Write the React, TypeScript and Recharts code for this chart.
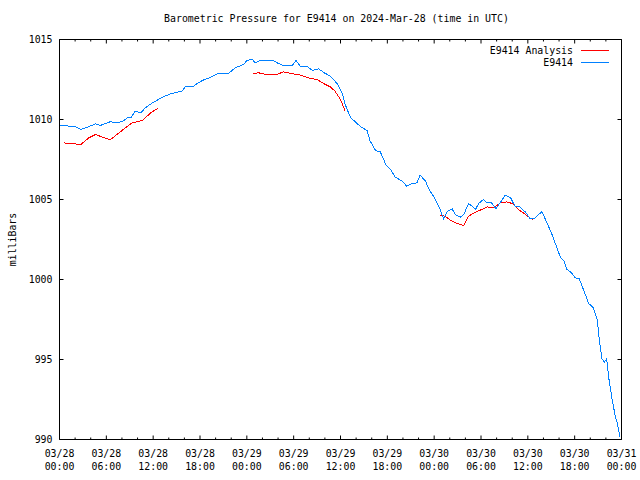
// Barometric pressure E9414 — gnuplot-style box chart in Recharts.

import { LineChart, Line, XAxis, YAxis, Legend, Label } from "recharts";

const FONT = "'DejaVu Sans Mono', 'Liberation Mono', monospace";
const FS = 9.9;

// hours since 03/28 00:00 UTC
const stationHours = [
  0, 1, 2, 2.7, 3.5, 4.6, 5.25, 6.5, 7.3, 8.0, 8.7, 9.2, 9.7, 10.4, 11, 11.9, 12.5, 13.2, 14.2, 15.0,
  15.7, 16.1, 17.2, 17.6, 18.3, 19.2, 20.2, 21.0, 21.7, 22.5, 23.6, 24.0, 24.7, 25.1, 25.7, 26.5, 27.4,
  27.9, 28.7, 29.8, 30.3, 30.9, 31.7, 32.4, 33.2, 33.9, 34.7, 35.6, 36.2, 36.6, 37.3, 37.9, 38.5, 39.4,
  39.8, 40.5, 41.1, 41.8, 42.4, 43.0, 43.9, 44.5, 45.2, 45.8, 46.2, 46.9, 47.3, 47.9, 48.6, 49.0, 49.2,
  49.7, 50.3, 50.7, 51.4, 51.8, 52.4, 52.9, 53.3, 53.7, 54.3, 54.8, 55.3, 55.9, 56.5, 57.1, 57.8, 58.4,
  59.0, 59.7, 60.3, 60.8, 61.2, 61.8, 62.5, 63.1, 63.8, 64.2, 64.6, 65.0, 65.5, 66.1, 66.6, 67.2, 67.8,
  68.4, 68.9, 69.2, 69.5, 69.8, 70.1, 70.4, 70.8, 71.2, 71.5, 71.8,
];
const stationPressure = [
  1009.63, 1009.6, 1009.55, 1009.38, 1009.5, 1009.73, 1009.63, 1009.86, 1009.8, 1009.86, 1010.1, 1010.15,
  1010.52, 1010.42, 1010.73, 1011.04, 1011.2, 1011.4, 1011.6, 1011.7, 1011.77, 1012.04, 1012.08, 1012.23,
  1012.44, 1012.6, 1012.85, 1012.85, 1012.9, 1013.23, 1013.44, 1013.69, 1013.75, 1013.54, 1013.69, 1013.69,
  1013.69, 1013.54, 1013.37, 1013.37, 1013.69, 1013.29, 1013.33, 1013.06, 1013.17, 1012.92, 1012.71, 1012.23,
  1011.67, 1010.94, 1010.1, 1009.86, 1009.58, 1009.31, 1008.65, 1008.06, 1007.98, 1007.19, 1006.88, 1006.4,
  1006.15, 1005.83, 1006.0, 1006.04, 1006.52, 1006.15, 1005.67, 1005.21, 1004.58, 1004.06, 1003.81, 1004.27,
  1004.42, 1004.06, 1003.9, 1004.06, 1004.75, 1004.58, 1004.38, 1004.75, 1005.0, 1004.79, 1004.83, 1004.42,
  1004.83, 1005.27, 1005.1, 1004.54, 1004.54, 1004.21, 1003.79, 1003.79, 1004.0, 1004.23, 1003.5, 1002.81,
  1001.88, 1001.35, 1001.19, 1000.63, 1000.46, 1000.1, 1000.04, 999.27, 998.5, 998.23, 997.5, 996.04,
  995.04, 994.83, 995.04, 993.75, 992.5, 991.46, 990.94, 990.17,
];

const analysisHours = [
  0.6, 1.3, 2.0, 2.7, 3.75, 4.6, 5.5, 6.5, 8.0, 9.3, 10.6, 11.7, 12.7, 18,
  24.8, 25.5, 26.6, 27.7, 28.7, 30.0, 30.9, 31.9, 33.0, 33.9, 34.7, 35.3, 36.0, 36.6, 42,
  48.7, 49.4, 50.1, 50.9, 51.8, 52.4, 53.3, 54.1, 54.8, 55.6, 56.5, 57.3, 58.0, 58.8, 59.7, 60.7,
];
const analysisPressure: (number | null)[] = [
  1008.54, 1008.48, 1008.48, 1008.42, 1008.85, 1009.06, 1008.9, 1008.73, 1009.31, 1009.79, 1009.94, 1010.42,
  1010.73, null,
  1012.85, 1012.92, 1012.79, 1012.79, 1012.98, 1012.85, 1012.77, 1012.6, 1012.5, 1012.23, 1012.04, 1011.77,
  1011.25, 1010.52, null,
  1004.02, 1003.96, 1003.69, 1003.5, 1003.38, 1003.96, 1004.21, 1004.38, 1004.54, 1004.48, 1004.79, 1004.85,
  1004.75, 1004.38, 1004.06, 1003.71,
];

const xTicks = [0, 2, 4, 6, 8, 10, 12, 14, 16, 18, 20, 22, 24, 26, 28, 30, 32, 34, 36, 38, 40, 42, 44, 46, 48, 50, 52, 54, 56, 58, 60, 62, 64, 66, 68, 70, 72];
const majorHours = [0, 6, 12, 18, 24, 30, 36, 42, 48, 54, 60, 66, 72];
const tickDates = ["03/28", "03/28", "03/28", "03/28", "03/29", "03/29", "03/29", "03/29", "03/30", "03/30", "03/30", "03/30", "03/31"];
const tickTimes = ["00:00", "06:00", "12:00", "18:00", "00:00", "06:00", "12:00", "18:00", "00:00", "06:00", "12:00", "18:00", "00:00"];
const yTicks = [990, 995, 1000, 1005, 1010, 1015];

const stationData = stationHours.map((h, i) => ({ h, v: stationPressure[i] }));
const analysisData = analysisHours.map((h, i) => ({ h, v: analysisPressure[i] }));

const RED = "#ff0000";
const BLUE = "#0080ff";

const txt = { fontFamily: FONT, fontSize: FS, fill: "#000" };

function BottomTick(props: any) {
  const { x, y, payload } = props;
  const idx = majorHours.indexOf(payload.value);
  const major = idx >= 0;
  return (
    <g>
      <line x1={x} y1={y} x2={x} y2={y - (major ? 4 : 2)} stroke="#000" />
      {major && (
        <text textAnchor="middle" {...txt}>
          <tspan x={x} y={y + 17}>{tickDates[idx]}</tspan>
          <tspan x={x} y={y + 30}>{tickTimes[idx]}</tspan>
        </text>
      )}
    </g>
  );
}

function TopTick(props: any) {
  const { x, y, payload } = props;
  const major = majorHours.indexOf(payload.value) >= 0;
  return <line x1={x} y1={y} x2={x} y2={y + (major ? 4 : 2)} stroke="#000" />;
}

function LeftTick(props: any) {
  const { x, y, payload } = props;
  return (
    <g>
      <line x1={x} y1={y} x2={x + 4} y2={y} stroke="#000" />
      <text x={x - 7} y={y} textAnchor="end" dominantBaseline="central" {...txt}>
        {payload.value}
      </text>
    </g>
  );
}

function RightTick(props: any) {
  const { x, y } = props;
  return <line x1={x} y1={y} x2={x - 4} y2={y} stroke="#000" />;
}

function LegendBox() {
  return (
    <svg width={150} height={30} style={{ display: "block" }}>
      <text x={103} y={8} textAnchor="end" dominantBaseline="central" {...txt}>E9414 Analysis</text>
      <line x1={111} y1={8.5} x2={139} y2={8.5} stroke={RED} />
      <text x={103} y={20} textAnchor="end" dominantBaseline="central" {...txt}>E9414</text>
      <line x1={111} y1={20.5} x2={139} y2={20.5} stroke={BLUE} />
    </svg>
  );
}

export default function App() {
  return (
    <div style={{ position: "absolute", left: 0, top: 0, width: 640, height: 480, background: "#fff" }}>
      <div
        style={{
          position: "absolute",
          left: 0,
          top: 13,
          width: 673,
          textAlign: "center",
          fontFamily: FONT,
          fontSize: FS,
          color: "#000",
          lineHeight: "12px",
        }}
      >
        Barometric Pressure for E9414 on 2024-Mar-28 (time in UTC)
      </div>
      <LineChart width={640} height={480} margin={{ top: 38.5, right: 17.5, bottom: 0, left: 8 }}>
        <XAxis
          dataKey="h"
          type="number"
          domain={[0, 72]}
          ticks={xTicks}
          interval={0}
          height={40.5}
          tickSize={0}
          tickMargin={0}
          tickLine={false}
          tick={<BottomTick />}
          axisLine={{ stroke: "#000" }}
          allowDataOverflow
        />
        <XAxis
          xAxisId="top"
          orientation="top"
          dataKey="h"
          type="number"
          domain={[0, 72]}
          ticks={xTicks}
          interval={0}
          height={1}
          tickSize={0}
          tickMargin={0}
          tickLine={false}
          tick={<TopTick />}
          axisLine={{ stroke: "#000" }}
          allowDataOverflow
        />
        <YAxis
          type="number"
          domain={[990, 1015]}
          ticks={yTicks}
          interval={0}
          width={51.5}
          tickSize={0}
          tickMargin={0}
          tickLine={false}
          tick={<LeftTick />}
          axisLine={{ stroke: "#000" }}
          allowDataOverflow
        >
          <Label
            content={(p: any) => {
              const vb = p.viewBox;
              const cx = vb.x + 4;
              const cy = vb.y + vb.height / 2;
              return (
                <text x={cx} y={cy} transform={`rotate(-90, ${cx}, ${cy})`} textAnchor="middle" dominantBaseline="central" {...txt}>
                  milliBars
                </text>
              );
            }}
          />
        </YAxis>
        <YAxis
          yAxisId="right"
          orientation="right"
          type="number"
          domain={[990, 1015]}
          ticks={yTicks}
          interval={0}
          width={1}
          tickSize={0}
          tickMargin={0}
          tickLine={false}
          tick={<RightTick />}
          axisLine={{ stroke: "#000" }}
          allowDataOverflow
        />
        <Legend
          verticalAlign="middle"
          align="center"
          layout="horizontal"
          content={() => <LegendBox />}
          wrapperStyle={{ top: 42, left: 470, width: 150, height: 30 }}
        />
        <Line
          name="E9414 Analysis"
          data={analysisData}
          dataKey="v"
          type="linear"
          stroke={RED}
          strokeWidth={1}
          dot={false}
          activeDot={false}
          connectNulls={false}
          shapeRendering="crispEdges"
          isAnimationActive={false}
        />
        <Line
          name="E9414"
          data={stationData}
          dataKey="v"
          type="linear"
          stroke={BLUE}
          strokeWidth={1}
          dot={false}
          activeDot={false}
          shapeRendering="crispEdges"
          isAnimationActive={false}
        />
      </LineChart>
    </div>
  );
}
